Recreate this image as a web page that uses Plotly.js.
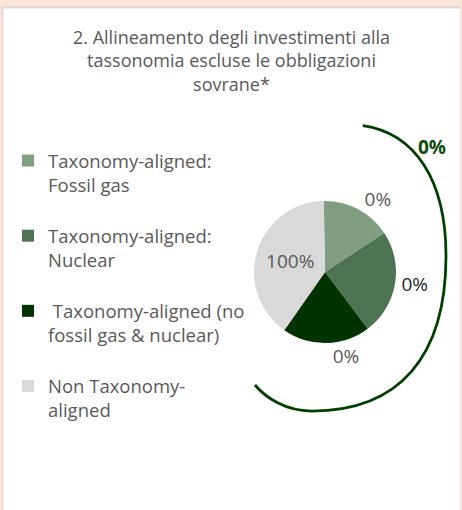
<!DOCTYPE html>
<html>
<head>
<meta charset="utf-8">
<script src="https://cdn.plot.ly/plotly-3.0.1.min.js"></script>
<style>html,body{margin:0;padding:0;background:#fbe5d6;}#chart{width:462px;height:510px;}</style>
</head>
<body>
<div id="chart"></div>
<script>
// ---- data ----
const categories = [
  'Taxonomy-aligned:<br>Fossil gas',
  'Taxonomy-aligned:<br>Nuclear',
  '\u00a0Taxonomy-aligned (no<br>fossil gas & nuclear)',
  'Non Taxonomy-<br>aligned'
];
const sliceValues = [16, 24, 20, 40];          // slice sizes as drawn
const sliceLabels = ['0%', '0%', '0%', '100%']; // printed data labels
const totalLabel = '0%';
const titleText = '2. Allineamento degli investimenti alla<br>tassonomia escluse le obbligazioni<br>sovrane*';

// ---- styles ----
const colors = ['#7f9f80', '#4d7350', '#003300', '#d9d9d9'];
const W = 462, H = 510;
const fx = x => x / W;
const fy = y => 1 - y / H;
const FONT = 'Open Sans, Liberation Sans, sans-serif';

// decorative bracket arc: three cubic segments (pixel guide points)
const arcSegs = [
  [[362.7,125.7]],
  [[415,133],[446,180],[446,256]],
  [[446,356.8],[399,411],[311.7,411]],
  [[285,411],[265,397],[255,385]]
];
function arcPath(segs) {
  const p = q => fx(q[0]) + ',' + fy(q[1]);
  let d = 'M' + p(segs[0][0]);
  for (let i = 1; i < segs.length; i++) d += ' C' + segs[i].map(p).join(' ');
  return d;
}

const trace = {
  type: 'pie',
  labels: categories.map(c => c + '<br> '),
  values: sliceValues,
  text: sliceLabels,
  textinfo: 'text',
  textposition: ['outside', 'outside', 'outside', 'inside'],
  insidetextorientation: 'horizontal',
  sort: false,
  direction: 'clockwise',
  rotation: -1,
  marker: { colors: colors, line: { width: 0 } },
  textfont: { family: FONT, size: 19, color: ['#595959', '#262626', '#595959', '#595959'] },
  domain: { x: [fx(325 - 71), fx(325 + 71)], y: [fy(272 + 71), fy(272 - 71)] },
  hoverinfo: 'skip'
};

const layout = {
  width: W, height: H,
  margin: { l: 0, r: 0, t: 0, b: 0 },
  paper_bgcolor: '#fbe5d6',
  plot_bgcolor: '#ffffff',
  title: {
    text: titleText,
    font: { family: FONT, size: 18, color: '#595959' },
    x: fx(231.5), xanchor: 'center', xref: 'paper',
    y: fy(44), yanchor: 'top', yref: 'container'
  },
  showlegend: true,
  legend: {
    x: fx(8), xanchor: 'left',
    y: fy(142), yanchor: 'top',
    valign: 'top',
    bgcolor: 'rgba(0,0,0,0)',
    font: { family: FONT, size: 18.5, color: '#595959' },
    traceorder: 'normal'
  },
  shapes: [
    { type: 'rect', xref: 'paper', yref: 'paper', x0: fx(3), x1: fx(460), y0: fy(515), y1: fy(8),
      fillcolor: '#ffffff', line: { width: 0 }, layer: 'below' },
    { type: 'line', xref: 'paper', yref: 'paper', x0: fx(2), x1: fx(460), y0: fy(7.5), y1: fy(7.5),
      line: { color: '#d9d9d9', width: 2 }, layer: 'below' },
    { type: 'line', xref: 'paper', yref: 'paper', x0: fx(2.5), x1: fx(2.5), y0: fy(7), y1: fy(515),
      line: { color: '#e6d8d2', width: 2 }, layer: 'below' },
    { type: 'path', xref: 'paper', yref: 'paper', path: arcPath(arcSegs),
      line: { color: '#003d00', width: 2.75 }, layer: 'above' }
  ],
  annotations: [
    { xref: 'paper', yref: 'paper', x: fx(432), y: fy(147), xanchor: 'center', yanchor: 'middle',
      text: '<b>' + totalLabel + '</b>', showarrow: false,
      font: { family: FONT, size: 19, color: '#0a4a0a' } }
  ]
};

Plotly.newPlot('chart', [trace], layout, { staticPlot: true, displayModeBar: false });
</script>
</body>
</html>
